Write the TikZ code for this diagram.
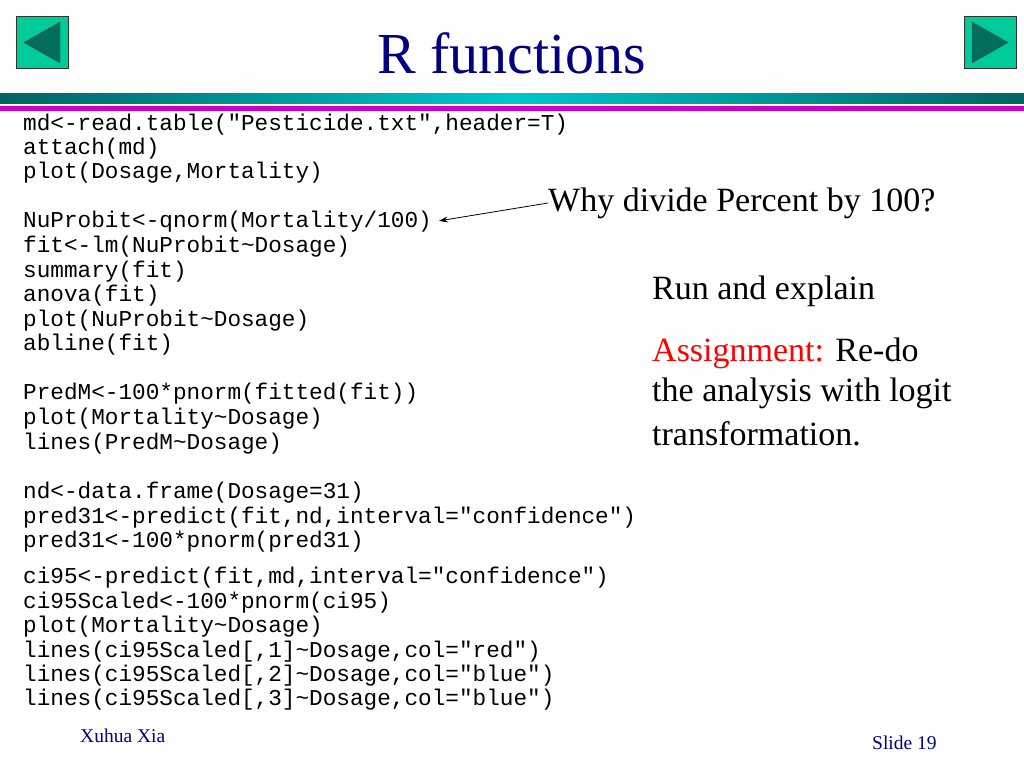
\documentclass[tikz,border=0pt]{standalone}
\usepackage{fontspec}
\setmainfont{Liberation Serif}
\setmonofont{Liberation Mono}
\usetikzlibrary{arrows.meta}
\definecolor{navy}{RGB}{0,0,128}
\definecolor{btn}{RGB}{0,204,153}
\definecolor{tri}{RGB}{0,110,90}
\definecolor{tealdk}{RGB}{0,100,100}
\definecolor{tealmid}{RGB}{0,200,200}
\definecolor{mag}{RGB}{204,0,204}
\begin{document}
\begin{tikzpicture}[x=1pt,y=-1pt,
  code/.style={anchor=west,inner sep=0,font=\ttfamily\fontsize{22.7}{22.7}\selectfont},
  txt/.style={anchor=west,inner sep=0,font=\fontsize{34}{34}\selectfont}]
\useasboundingbox (0,0) rectangle (1024,768);
% buttons
\node[draw=black!80,line width=1pt,fill=btn,minimum width=52,minimum height=51,inner sep=0] (lb) at (42,42.5) {};
\fill[tri,draw=black!70] (24,42.5) -- (60,22) -- (60,63) -- cycle;
\node[draw=black!80,line width=1pt,fill=btn,minimum width=52,minimum height=51,inner sep=0] (rb) at (990,42.5) {};
\fill[tri,draw=black!70] (1008,42.5) -- (972,22) -- (972,63) -- cycle;
\node[inner sep=0,text=navy,font=\fontsize{58}{58}\selectfont] (title) at (512,53) {R functions};
% bars
\shade[left color=tealdk,right color=tealdk,middle color=tealmid] (0,93) rectangle (1024,103);
\fill[mag] (0,106) rectangle (1024,111);
% code
\foreach \y/\t [count=\i] in {
125/{md<-read.table("Pesticide.txt",header=T)},
149/{attach(md)},
173/{plot(Dosage,Mortality)},
222/{NuProbit<-qnorm(Mortality/100)},
247/{fit<-lm(NuProbit\string~Dosage)},
272/{summary(fit)},
296/{anova(fit)},
321/{plot(NuProbit\string~Dosage)},
345/{abline(fit)},
394/{PredM<-100*pnorm(fitted(fit))},
419/{plot(Mortality\string~Dosage)},
444/{lines(PredM\string~Dosage)},
493/{nd<-data.frame(Dosage=31)},
518/{pred31<-predict(fit,nd,interval="confidence")},
542/{pred31<-100*pnorm(pred31)},
578/{ci95<-predict(fit,md,interval="confidence")},
603/{ci95Scaled<-100*pnorm(ci95)},
627/{plot(Mortality\string~Dosage)},
652/{lines(ci95Scaled[,1]\string~Dosage,col="red")},
676/{lines(ci95Scaled[,2]\string~Dosage,col="blue")},
700/{lines(ci95Scaled[,3]\string~Dosage,col="blue")}}
  \node[code] (c\i) at (23,\y) {\t};
\node[txt] (why) at (548,203) {Why divide Percent by 100?};
\draw[-{Stealth[length=9pt,width=6pt]},line width=0.8pt,shorten >=7pt] (why.west) -- (c4.east);
\node[txt] (run) at (652,291) {Run and explain};
\node[txt] (a1) at (652,353) {\textcolor{red}{Assignment:} Re-do};
\node[txt] (a2) at (652,393) {the analysis with logit};
\node[txt] (a3) at (652,434) {transformation.};
\node[anchor=west,inner sep=0,text=navy,font=\fontsize{19.5}{19.5}\selectfont] (auth) at (80,736) {Xuhua Xia};
\node[anchor=west,inner sep=0,text=navy,font=\fontsize{19.5}{19.5}\selectfont] (slide) at (872,743) {Slide 19};
\end{tikzpicture}
\end{document}
